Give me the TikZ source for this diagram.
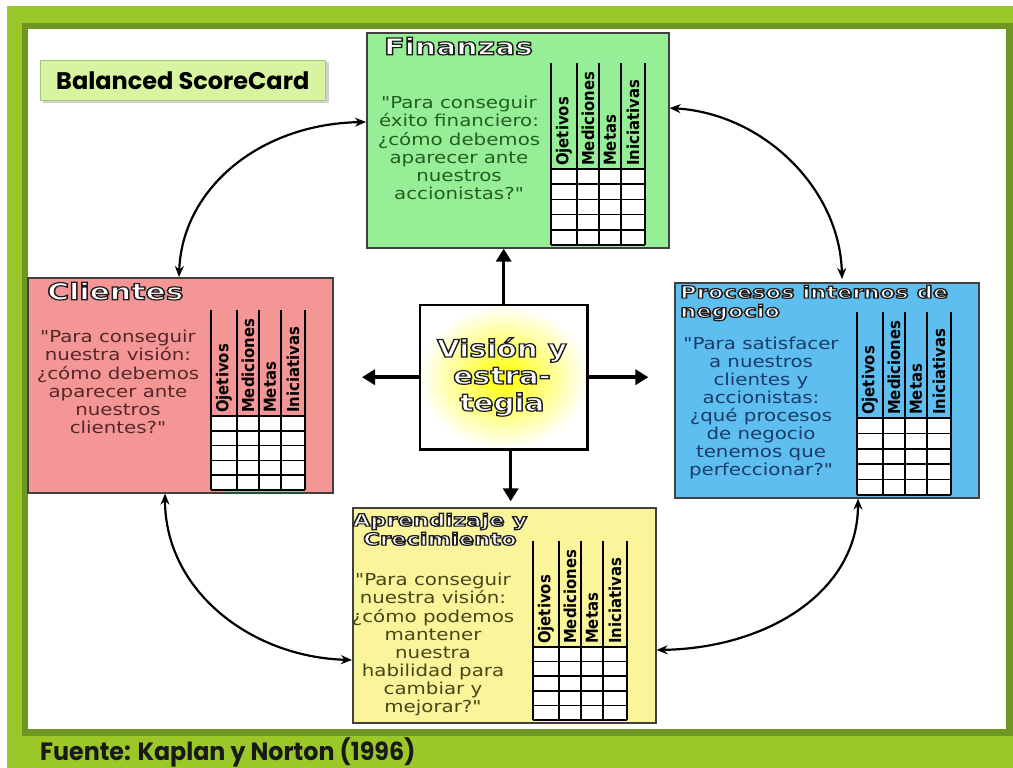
\documentclass[tikz,border=0pt]{standalone}
\usepackage{fontspec}
\usepackage{graphicx}
\usetikzlibrary{arrows.meta,calc}
\newfontfamily\qfont{DejaVu Sans}
\newfontfamily\hfont{DejaVu Sans Condensed}
\newfontfamily\pfont{Poppins}
\definecolor{limeg}{RGB}{155,200,40}
\definecolor{oliveg}{RGB}{110,150,32}
\definecolor{finfill}{RGB}{150,238,150}
\definecolor{clifill}{RGB}{245,150,150}
\definecolor{profill}{RGB}{95,190,240}
\definecolor{aprfill}{RGB}{250,245,155}
\definecolor{bscfill}{RGB}{215,245,160}
\definecolor{fintxt}{RGB}{35,95,35}
\definecolor{clitxt}{RGB}{85,40,40}
\definecolor{protxt}{RGB}{25,60,105}
\definecolor{aprtxt}{RGB}{70,70,25}
\tikzset{
  card/.style={draw=black!75, line width=1.6pt, anchor=north west, inner sep=0pt},
  gridline/.style={line width=1.6pt, black},
  hdr/.style={rotate=90, anchor=west, inner sep=1pt, text=black, font=\hfont\bfseries\fontsize{16.5}{16}\selectfont},
  quote/.style={align=center, inner sep=0pt, font=\qfont\fontsize{16.5}{18}\selectfont},
  ttl/.style={anchor=north west, inner sep=0pt, text=white, font=\qfont\bfseries\fontsize{23}{24}\selectfont},
  bigarrow/.style={line width=3.5pt, -{Triangle[length=13pt,width=15pt]}},
  curvearrow/.style={line width=2.2pt, {Stealth[length=11pt,width=9pt]}-{Stealth[length=11pt,width=9pt]}},
}
\newcommand\ctext[1]{\special{pdf:literal direct 2 Tr 1.2 w 0.12 0.12 0.12 RG}#1\special{pdf:literal direct 0 Tr}}
\newcommand\bscgrid[4]{%
  \fill[white] (#2,#3) rectangle (#2+94,#4);
  \foreach \k in {0,...,5} {\draw[gridline] (#2,{#3+(#4-#3)*\k/5}) -- (#2+94,{#3+(#4-#3)*\k/5});}
  \foreach \dx in {0,26,48,70,94} {\draw[gridline] (#2+\dx,#3-106) -- (#2+\dx,#4);}
  \node[hdr] (#1o) at (#2+13,#3-2) {Ojetivos};
  \node[hdr] (#1m) at (#2+37,#3-2) {Mediciones};
  \node[hdr] (#1t) at (#2+59,#3-2) {Metas};
  \node[hdr] (#1i) at (#2+82,#3-2) {Iniciativas};
}
\begin{document}
\begin{tikzpicture}[x=1pt,y=-1pt]
\useasboundingbox (0,0) rectangle (1013,768);
% frame
\fill[white] (0,0) rectangle (1013,768);
\fill[limeg] (7,6) rectangle (1013,768);
\fill[oliveg] (22,23) rectangle (1013,736);
\fill[white] (28,29) rectangle (1006,729);
% title box
\fill[black!18] (43,62) rectangle (329,103);
\node[anchor=north west, fill=bscfill, draw=bscfill!80!black, line width=0.6pt, minimum width=285pt, minimum height=40pt, inner sep=0pt] (bsc) at (40,60) {};
\node[font=\pfont\bfseries\fontsize{24}{24}\selectfont] (bsct) at (bsc.center) {Balanced ScoreCard};
% Finanzas
\node[card, fill=finfill, minimum width=302pt, minimum height=215pt] (fin) at (366,32) {};
\bscgrid{f}{551}{169}{245}
\node[ttl] (fint) at (384,37) {\scalebox{1.3}[1]{\ctext{Finanzas}}};
\node[quote, text=fintxt] (finq) at (459,150) {\scalebox{1.2}[1]{\begin{tabular}{@{}c@{}}"Para conseguir\\éxito financiero:\\¿cómo debemos\\aparecer ante\\nuestros\\accionistas?"\end{tabular}}};
% Clientes
\node[card, fill=clifill, minimum width=305pt, minimum height=215pt] (cli) at (27,277) {};
\bscgrid{c}{211}{416}{490}
\node[ttl] (clit) at (47,282) {\scalebox{1.3}[1]{\ctext{Clientes}}};
\node[quote, text=clitxt] (cliq) at (118,384) {\scalebox{1.2}[1]{\begin{tabular}{@{}c@{}}"Para conseguir\\nuestra visión:\\¿cómo debemos\\aparecer ante\\nuestros\\clientes?"\end{tabular}}};
% Procesos
\node[card, fill=profill, minimum width=304pt, minimum height=215pt] (pro) at (674,282) {};
\bscgrid{p}{857}{418}{495}
\node[ttl, align=left, font=\qfont\bfseries\fontsize{17}{19}\selectfont] (prot) at (680,285) {\scalebox{1.33}[1]{\ctext{Procesos internos de}}\\\scalebox{1.33}[1]{\ctext{negocio}}};
\node[quote, text=protxt] (proq) at (761,409) {\scalebox{1.2}[1]{\begin{tabular}{@{}c@{}}"Para satisfacer\\a nuestros\\clientes y\\accionistas:\\¿qué procesos\\de negocio\\tenemos que\\perfeccionar?"\end{tabular}}};
% Aprendizaje
\node[card, fill=aprfill, minimum width=303pt, minimum height=215pt] (apr) at (352,507) {};
\bscgrid{a}{533}{647}{720}
\node[ttl, anchor=north, align=center, font=\qfont\bfseries\fontsize{17}{19}\selectfont] (aprt) at (440,513) {\scalebox{1.33}[1]{\ctext{Aprendizaje y}}\\\scalebox{1.33}[1]{\ctext{Crecimiento}}};
\node[quote, text=aprtxt] (aprq) at (433,645) {\scalebox{1.2}[1]{\begin{tabular}{@{}c@{}}"Para conseguir\\nuestra visión:\\¿cómo podemos\\mantener\\nuestra\\habilidad para\\cambiar y\\mejorar?"\end{tabular}}};
% center
\node[anchor=north west, minimum width=167pt, minimum height=144pt, inner sep=0pt] (vis) at (420,305) {};
\begin{scope}
\clip (vis.south west) rectangle (vis.north east);
\fill[white] (vis.south west) rectangle (vis.north east);
\shade[inner color=yellow, outer color=white] (vis.center) ellipse (85pt and 72pt);
\end{scope}
\draw[line width=2.5pt, black] (vis.south west) rectangle (vis.north east);
\node[align=center, text=white, font=\qfont\bfseries\fontsize{24}{27}\selectfont] (vist) at (502,377) {\scalebox{1.22}[1]{\ctext{Visión y}}\\\scalebox{1.22}[1]{\ctext{estra-}}\\\scalebox{1.22}[1]{\ctext{tegia}}};
% straight arrows
\draw[bigarrow] (vis.north) -- (vis.north |- fin.south);
\draw[bigarrow] (vis.west) -- ++(-58,0);
\draw[bigarrow] (vis.east) -- ++(61,0);
\draw[bigarrow] ([xshift=7pt]vis.south) -- ++(0,52);
% curved arrows
\draw[curvearrow] ([yshift=-90pt]fin.north west) .. controls (258,124) and (182,190) .. ([xshift=152pt]cli.north west);
\draw[curvearrow] ([yshift=-76pt]fin.north east) .. controls (765,114) and (840,190) .. ([xshift=168pt,yshift=3pt]pro.north west);
\draw[curvearrow] ([xshift=184pt]pro.south west) .. controls (858,590) and (770,648) .. ([yshift=-143pt]apr.north east);
\draw[curvearrow] ([xshift=138pt]cli.south west) .. controls (165,590) and (250,657) .. ([yshift=-153pt]apr.north west);
% source
\node[anchor=west, inner sep=0pt, text=black!90, font=\pfont\bfseries\fontsize{25}{26}\selectfont] (src) at (40,752) {\scalebox{0.95}[1]{Fuente: Kaplan y Norton (1996)}};
\end{tikzpicture}
\end{document}
